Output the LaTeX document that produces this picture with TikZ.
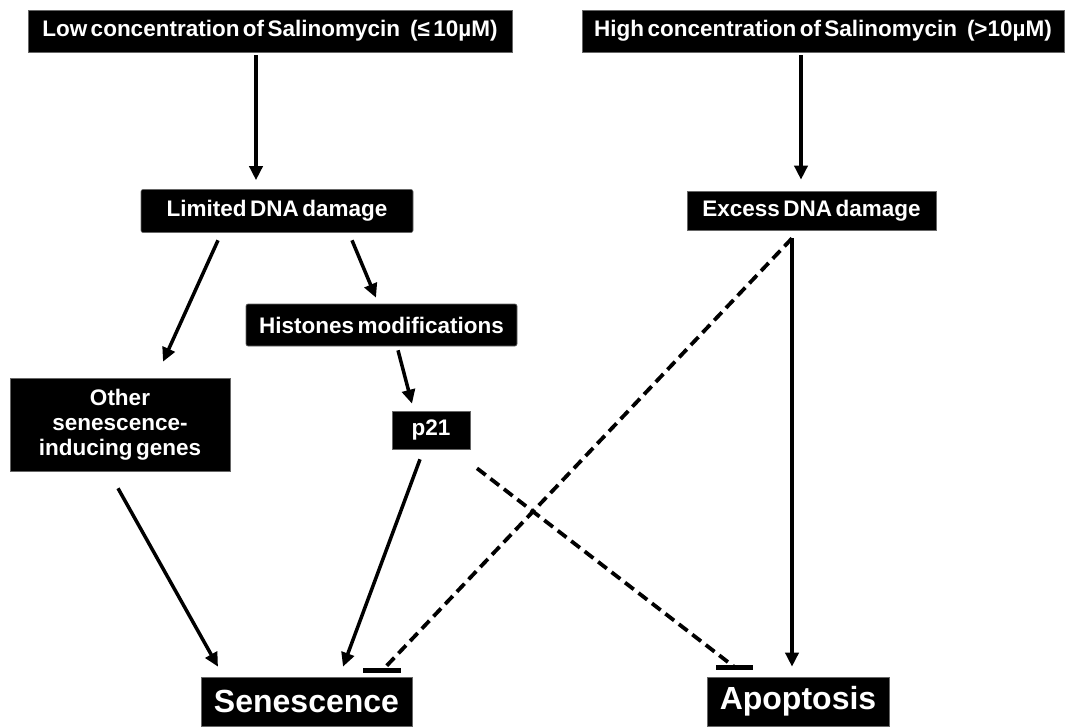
\documentclass[tikz,border=0pt]{standalone}
\usepackage{fontspec}
\setmainfont{Liberation Sans}[WordSpace=0.55]
\usetikzlibrary{arrows.meta,calc}
\tikzset{
  box/.style={fill=black, draw=black!60, line width=0.6pt, text=white, font=\bfseries\fontsize{22.5}{25}\selectfont, inner sep=0pt, align=center},
  big/.style={box, font=\bfseries\fontsize{32}{36}\selectfont},
  arr/.style={line width=3.5pt, -{Triangle[length=14pt,width=13pt]}},
  inh/.style={line width=3.8pt, dash pattern=on 11pt off 6pt},
  tbar/.style={line width=4.5pt},
}
\begin{document}
\begin{tikzpicture}[x=1pt,y=-1pt]
\useasboundingbox (0,0) rectangle (1068,726);
\node[box, minimum width=484pt, minimum height=42pt] (low) at (270,31) {Low concentration of Salinomycin\hspace{10pt}(≤ 10µM)};
\node[box, minimum width=482pt, minimum height=42pt] (high) at (823,31) {High concentration of Salinomycin\hspace{10pt}(>10µM)};
\node[box, rounded corners=2pt, minimum width=272pt, minimum height=43pt] (lim) at (277,211) {Limited DNA damage};
\node[box, minimum width=249pt, minimum height=39pt] (exc) at (811.5,210.5) {Excess DNA damage};
\node[box, rounded corners=2pt, minimum width=271pt, minimum height=42pt] (hist) at (381.5,325) {Histones modifications};
\node[box, minimum width=220pt, minimum height=93pt] (other) at (120,424.5) {Other\\senescence-\\inducing genes};
\node[box, minimum width=78pt, minimum height=38pt] (p21) at (431,430) {p21};
\node[big, minimum width=211pt, minimum height=49pt] (sen) at (306.5,701.5) {Senescence};
\node[big, minimum width=182pt, minimum height=49pt] (apo) at (798,701.5) {Apoptosis};

\draw[arr] ($(low.south)+(-14,3)$) -- ($(lim.north)+(-21,-9)$);
\draw[arr] ($(high.south)+(-22,3)$) -- ($(exc.north)+(-10.5,-11)$);
\draw[arr] ($(lim.south)+(-59,7.5)$) -- ($(other.north)+(43,-16)$);
\draw[arr] ($(lim.south)+(75,7.5)$) -- ($(hist.north)+(-5.5,-6)$);
\draw[arr] ($(hist.south)+(16.5,4)$) -- ($(p21.north)+(-19,-7)$);
\draw[arr] ($(other.south)+(-2,17)$) -- ($(sen.north)+(-88.5,-10)$);
\draw[arr] ($(p21.south)+(-11,10)$) -- ($(sen.north)+(36.5,-10)$);
\draw[arr] ($(exc.south)+(-19.5,8)$) -- ($(apo.north)+(-6,-10)$);

\draw[inh] ($(p21.south)+(46,19)$) -- ($(apo.north)+(-64,-10)$);
\draw[tbar] ($(apo.north)+(-82,-9)$) -- ($(apo.north)+(-45,-9)$);
\draw[inh] ($(exc.south)+(-19.5,8)$) -- ($(sen.north)+(75.5,-6)$);
\draw[tbar] ($(sen.north)+(56.5,-6)$) -- ($(sen.north)+(94.5,-6)$);
\end{tikzpicture}
\end{document}
